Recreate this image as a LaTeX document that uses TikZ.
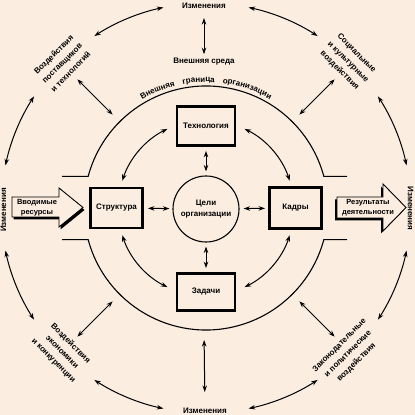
\documentclass[tikz,border=0pt]{standalone}
\usepackage{fontspec}
\setmainfont{Liberation Sans}
\usetikzlibrary{arrows.meta,decorations.text,calc}
\definecolor{bg}{RGB}{251,237,224}
\begin{document}
\begin{tikzpicture}[x=1pt,y=1pt,
  every node/.style={font=\fontsize{8}{11}\selectfont\bfseries, inner sep=0pt, align=center},
  dbl/.style={{Stealth[length=6.5pt,width=4.5pt]}-{Stealth[length=6.5pt,width=4.5pt]}, line width=1pt},
  bx/.style={draw, line width=2.8pt, fill=bg},
  thinl/.style={line width=1.1pt},
  blockarrow/.style={draw, line width=0.9pt, fill=bg},
  shade/.style={fill=black},
  small/.style={font=\fontsize{7.5}{10}\selectfont\bfseries},
  corner/.style={font=\fontsize{8}{12}\selectfont\bfseries}
]
\fill[bg] (0,0) rectangle (415,415);
\useasboundingbox (0,0) rectangle (415,415);
\coordinate (C) at (206,207);

% organisation boundary
\draw[thinl] (62,238.6) -- ($(C)+(165:122)$) arc[start angle=165,end angle=15,radius=122] -- (347,238.6);
\draw[thinl] (62,175.4) -- ($(C)+(195:122)$) arc[start angle=195,end angle=345,radius=122] -- (347,175.4);
\path[postaction={decorate}, decoration={text along path, text align=center,
  text={|\fontsize{8}{9}\selectfont\bfseries|Внешняя{\kern8pt}граница{\kern8pt}организации}}]
  ($(C)+(122:126)$) arc[start angle=122,end angle=58,radius=126];

% inner nodes
\node[bx, minimum width=58pt, minimum height=39pt] (tech) at (206,289) {Технология};
\node[bx, minimum width=58pt, minimum height=37pt] (zad) at (206,123) {Задачи};
\node[bx, minimum width=52pt, minimum height=40pt] (str) at (116.5,207) {Структура};
\node[bx, minimum width=52pt, minimum height=41pt] (kad) at (295.5,207) {Кадры};
\node[draw, thinl, circle, minimum size=66pt, fill=bg, font=\fontsize{8}{10.5}\selectfont\bfseries] (goal) at (206,206) {Цели\\организации};

\draw[dbl, shorten <=4pt, shorten >=4pt] (tech) -- (goal);
\draw[dbl, shorten <=4pt, shorten >=4pt] (goal) -- (zad);
\draw[dbl, shorten <=4pt, shorten >=3pt] (str) -- (goal);
\draw[dbl, shorten <=4pt, shorten >=3pt] (goal) -- (kad);

\foreach \a/\b in {162/116, 64/18, -18/-64, -116/-162}
  \draw[dbl] ($(C)+(\a:88)$) arc[start angle=\a,end angle=\b,radius=88];

% block arrows
\fill[shade, shift={(1.5,-2.5)}] (12,198) -- (59,198) -- (59,188) -- (83,207.5) -- (59,227) -- (59,218) -- (12,218) -- cycle;
\draw[blockarrow] (12,198) -- (59,198) -- (59,188) -- (83,207.5) -- (59,227) -- (59,218) -- (12,218) -- cycle;
\node[small] (inres) at (37,207.5) {Вводимые\\ресурсы};
\fill[shade, shift={(-2,-2.5)}] (337,197) -- (383,197) -- (383,184) -- (406,207.5) -- (383,231) -- (383,218) -- (337,218) -- cycle;
\draw[blockarrow] (337,197) -- (383,197) -- (383,184) -- (406,207.5) -- (383,231) -- (383,218) -- (337,218) -- cycle;
\node[small] (outres) at (368,207) {Результаты\\деятельности};

% outer environment
\node (chT) at (204,409) {Изменения};
\node (chB) at (205,4) {Изменения};
\node[rotate=90] (chL) at (3.5,205) {Изменения};
\node[rotate=-90] (chR) at (410.5,206.5) {Изменения};
\node (ext) at (204,353) {Внешняя среда};
\coordinate (bb) at (204,85);
\draw[dbl, shorten <=9pt, shorten >=4pt] (chT) -- (ext);
\draw[dbl, shorten <=10pt, shorten >=16pt] (bb) -- (chB);

\node[corner, rotate=45] (tl) at (62,352) {Воздействия\\поставщиков\\и технологий};
\node[corner, rotate=-45] (tr) at (348,353) {Социальные\\и культурные\\воздействия};
\node[corner, rotate=-45] (bl) at (62,63) {Воздействия\\экономики\\и конкуренции};
\node[corner, rotate=45] (br) at (348,61) {Законодательные\\и политические\\воздействия};

\foreach \a/\b in {102/123, 147/168, 78/57, 33/12, 192/213, 237/258, -12/-33, -57/-78}
  \draw[dbl] ($(C)+(\a:205)$) arc[start angle=\a,end angle=\b,radius=205];
\foreach \a in {45,135,225,315}
  \draw[dbl] ($(C)+(\a:132)$) -- ($(C)+(\a:182)$);
\end{tikzpicture}
\end{document}
